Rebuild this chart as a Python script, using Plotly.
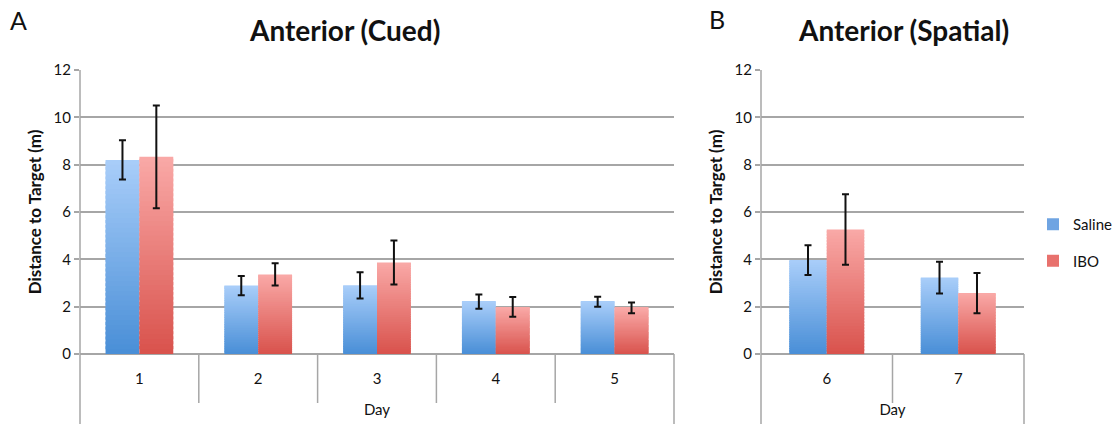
import plotly.graph_objects as go

# Anterior (Cued): days 1-5
cued_days = ["1", "2", "3", "4", "5"]
cued_saline = [8.20, 2.89, 2.90, 2.21, 2.21]
cued_saline_err = [0.83, 0.41, 0.55, 0.30, 0.21]
cued_ibo = [8.33, 3.36, 3.87, 1.99, 1.95]
cued_ibo_err = [2.17, 0.47, 0.93, 0.42, 0.23]

# Anterior (Spatial): days 6-7
spatial_days = ["6", "7"]
spatial_saline = [3.97, 3.23]
spatial_saline_err = [0.63, 0.67]
spatial_ibo = [5.26, 2.57]
spatial_ibo_err = [1.49, 0.85]

series_names = ["Saline", "IBO"]
# (top colour, bottom colour) of the vertical gradient fill
gradients = {
    "Saline": ((168, 205, 249), (74, 143, 215)),
    "IBO": ((249, 168, 166), (217, 83, 77)),
}
legend_colors = {"Saline": "#6fa4e2", "IBO": "#e8716d"}

N_SEG = 40
BAR_W = 0.285
GRID = "#a6a6a6"
FONT = "Lato"


def lerp(c0, c1, t):
    return "rgb(%d,%d,%d)" % tuple(round(a + (b - a) * t) for a, b in zip(c0, c1))


fig = go.Figure()


def add_panel(days, sal, sal_err, ibo, ibo_err, xa, ya, show_legend):
    for name, vals, errs, off in (("Saline", sal, sal_err, -BAR_W),
                                  ("IBO", ibo, ibo_err, 0.0)):
        top, bottom = gradients[name]
        for k in range(N_SEG):
            t = k / (N_SEG - 1)
            step = [v / N_SEG for v in vals]
            fig.add_trace(go.Bar(
                x=days,
                y=[s * 1.6 if k < N_SEG - 1 else s for s in step],
                base=[v * k / N_SEG for v in vals],
                offset=off, width=BAR_W,
                marker=dict(color=lerp(bottom, top, t), line=dict(width=0)),
                xaxis=xa, yaxis=ya,
                showlegend=False, hoverinfo="skip",
            ))
        # transparent overlay carrying the error bars
        fig.add_trace(go.Bar(
            x=days, y=vals, offset=off, width=BAR_W,
            marker=dict(color="rgba(0,0,0,0)", line=dict(width=0)),
            error_y=dict(type="data", array=errs, visible=True,
                         color="#111111", thickness=2, width=3.5),
            xaxis=xa, yaxis=ya, name=name,
            showlegend=False,
        ))
        if show_legend:
            fig.add_trace(go.Bar(
                x=[None], y=[None], name=name,
                marker=dict(color=legend_colors[name], line=dict(width=0)),
                xaxis=xa, yaxis=ya, legendgroup=name, showlegend=True,
            ))


add_panel(cued_days, cued_saline, cued_saline_err, cued_ibo, cued_ibo_err,
          "x", "y", False)
add_panel(spatial_days, spatial_saline, spatial_saline_err, spatial_ibo,
          spatial_ibo_err, "x2", "y2", True)

W, H = 1115, 424
y_dom = [1 - 354 / H, 1 - 70 / H]
xa_dom = [80 / W, 674 / W]
xb_dom = [761 / W, 1024 / W]

xaxis_common = dict(
    type="category", showgrid=False, zeroline=False,
    showline=False, ticks="", fixedrange=True, automargin=False,
    tickfont=dict(family=FONT, size=15, color="#111"),
    ticklabelstandoff=14,
    title=dict(text="Day", font=dict(family=FONT, size=15, color="#111"),
               standoff=18),
)
yaxis_common = dict(
    range=[0, 12], dtick=2, tick0=0, automargin=False,
    showgrid=True, gridcolor=GRID, gridwidth=1.5,
    zeroline=True, zerolinecolor=GRID, zerolinewidth=1.5,
    showline=False, ticks="outside", ticklen=5, tickcolor=GRID, tickwidth=1.5,
    tickfont=dict(family=FONT, size=15, color="#111"),
    title=dict(text="<b>Distance to Target (m)</b>",
               font=dict(family=FONT, size=17, color="#111"), standoff=7),
    fixedrange=True,
)

fig.update_layout(
    width=W, height=H,
    margin=dict(l=0, r=0, t=0, b=0, autoexpand=False),
    paper_bgcolor="white", plot_bgcolor="white",
    barmode="overlay",
    xaxis=dict(domain=xa_dom, anchor="y", **xaxis_common),
    yaxis=dict(domain=y_dom, anchor="x", **yaxis_common),
    xaxis2=dict(domain=xb_dom, anchor="y2", **xaxis_common),
    yaxis2=dict(domain=y_dom, anchor="x2", **yaxis_common),
    legend=dict(
        xref="container", yref="container",
        x=1033 / W, y=1 - 208 / H, xanchor="left", yanchor="top",
        font=dict(family=FONT, size=15, color="#111"),
        traceorder="grouped", tracegroupgap=14,
        itemwidth=30, bgcolor="rgba(0,0,0,0)",
    ),
    showlegend=True,
)

# Panel frame lines below the plot: category separators and long edges
shapes = []
for xref, yref, n in (("x domain", "y domain", 5), ("x2 domain", "y2 domain", 2)):
    plot_h = 354 - 70
    short = -(403 - 354) / plot_h
    long_ = -(424 - 354) / plot_h
    for k in range(n + 1):
        y1 = long_ if k in (0, n) else short
        shapes.append(dict(type="line", xref=xref, yref=yref,
                           x0=k / n, x1=k / n, y0=1.0 if k == 0 else 0.0, y1=y1,
                           line=dict(color=GRID, width=1.5)))
fig.update_layout(shapes=shapes)

annotations = [
    dict(text="A", x=18 / W, y=1 - 20 / H, font=dict(family=FONT, size=25, color="#111")),
    dict(text="B", x=717 / W, y=1 - 19 / H, font=dict(family=FONT, size=25, color="#111")),
    dict(text="<b>Anterior (Cued)</b>", x=344 / W, y=1 - 30 / H,
         font=dict(family=FONT, size=28, color="#111")),
    dict(text="<b>Anterior (Spatial)</b>", x=903 / W, y=1 - 30 / H,
         font=dict(family=FONT, size=28, color="#111")),
]
for a in annotations:
    a.update(xref="paper", yref="paper", xanchor="center", yanchor="middle",
             showarrow=False)
fig.update_layout(annotations=annotations)

fig.write_html("out.html")
